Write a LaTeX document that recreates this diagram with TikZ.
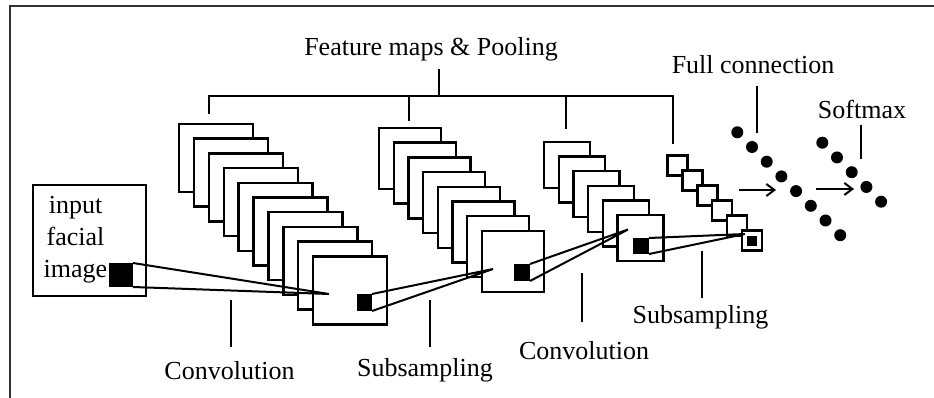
\documentclass[tikz,border=0pt]{standalone}
\usepackage{fontspec}
\setmainfont{Liberation Serif}
\usetikzlibrary{arrows.meta}
\begin{document}
\begin{tikzpicture}[x=1pt,y=-1pt,
  lbl/.style={font=\fontsize{26}{30}\selectfont, inner sep=0pt, anchor=base},
  fmap/.style={draw, fill=white, line width=2.4pt, inner sep=0pt, outer sep=0pt, anchor=north west},
  patch/.style={fill=black, inner sep=0pt, outer sep=0pt, anchor=north west},
  conn/.style={line width=2pt},
  tick/.style={line width=2pt},
  brk/.style={line width=2.4pt},
  dot/.style={circle, fill=black, inner sep=0pt, minimum size=12pt},
  arr/.style={line width=2pt, -{Straight Barb[length=8pt,width=12pt]}}
]
\useasboundingbox (0,0) rectangle (934,398);
% frame
\draw[line width=1.5pt, black!80] (934,6) -- (10,6) -- (10,398);

% input image
\node[draw, line width=2.2pt, inner sep=0pt, minimum width=113pt, minimum height=111pt, anchor=north west] (inp) at (32,184) {};
\node[lbl] (t1) at (75.5,213.5) {input};
\node[lbl] (t2) at (75.5,245.5) {facial};
\node[lbl] (t3) at (75.5,277.5) {image};
\node[patch, minimum width=24pt, minimum height=24pt] (in0) at (109,263) {};

% stack 1: convolution
\foreach \i in {0,...,9}
  \node[fmap, minimum width=74pt, minimum height=68pt] (a\i) at ({179+14.9*\i},{124+14.7*\i}) {};
\node[patch, minimum width=15pt, minimum height=17pt] (s1) at (357,294) {};

% stack 2: subsampling
\foreach \i in {0,...,7}
  \node[fmap, minimum width=62pt, minimum height=61pt] (b\i) at ({379+14.7*\i},{128+14.7*\i}) {};
\node[patch, minimum width=16pt, minimum height=17pt] (s2) at (514,264) {};

% stack 3: convolution
\foreach \i in {0,...,5}
  \node[fmap, minimum width=46pt, minimum height=46pt] (c\i) at ({544+14.7*\i},{142+14.6*\i}) {};
\node[patch, minimum width=16pt, minimum height=16pt] (s3) at (633,238) {};

% stack 4: subsampling
\foreach \i in {0,...,5}
  \node[fmap, minimum width=20pt, minimum height=20pt] (e\i) at ({667.5+14.9*\i},{155.5+15*\i}) {};
\node[patch, minimum width=10pt, minimum height=10pt] (s4) at (747,236) {};

% connectors (receptive fields)
\coordinate (p1) at (329,294);
\coordinate (p2) at (493,269);
\coordinate (p3) at (628,229.5);
\coordinate (p4) at (745,234);
\draw[conn] (in0.north east) -- (p1) (in0.south east) -- (p1);
\draw[conn] (s1.north east) -- (p2) (s1.south east) -- (p2);
\draw[conn] (s2.north east) -- (p3) (s2.south east) -- (p3);
\draw[conn] (s3.north east) -- (p4) (s3.south east) -- (p4);

% top bracket
\node[lbl] (title) at (431,56) {Feature maps \& Pooling};
\coordinate (bt) at (439,69);
\coordinate (bm) at (439,96);
\coordinate (bl) at (209,96);
\coordinate (br) at (673,96);
\coordinate (d1) at (209,114);
\coordinate (d2) at (409,121);
\coordinate (d3) at (566,129);
\coordinate (d4) at (673,144);
\draw[brk] (d1) -- (bl) -- (br) -- (d4);
\draw[brk] (bt) -- (bm);
\draw[brk] (d2) -- (d2 |- bl);
\draw[brk] (d3) -- (d3 |- bl);

% bottom labels
\node[lbl] (l1) at (229.5,379) {Convolution};
\draw[tick] (231,300) -- (231,347);
\node[lbl] (l2) at (425,376) {Subsampling};
\draw[tick] (430,300) -- (430,347);
\node[lbl] (l3) at (584,359.5) {Convolution};
\draw[tick] (582,273) -- (582,322);
\node[lbl] (l4) at (700.5,323) {Subsampling};
\draw[tick] (702,251) -- (702,298);

% full connection and softmax
\node[lbl] (fc) at (753,73.5) {Full connection};
\draw[tick] (757,86) -- (757,133);
\node[lbl] (sm) at (862,118.5) {Softmax};
\draw[tick] (861,125) -- (861,159);
\foreach \i in {1,...,8}
  \node[dot] (f\i) at ({737.3+14.7*(\i-1)},{132.3+14.7*(\i-1)}) {};
\foreach \i in {1,...,5}
  \node[dot] (m\i) at ({822.3+14.7*(\i-1)},{142.7+14.75*(\i-1)}) {};
\coordinate (a1s) at (739,190);
\coordinate (a1e) at (776,190);
\coordinate (a2s) at (816,189);
\coordinate (a2e) at (854,189);
\draw[arr] (a1s) -- (a1e);
\draw[arr] (a2s) -- (a2e);
\end{tikzpicture}
\end{document}
